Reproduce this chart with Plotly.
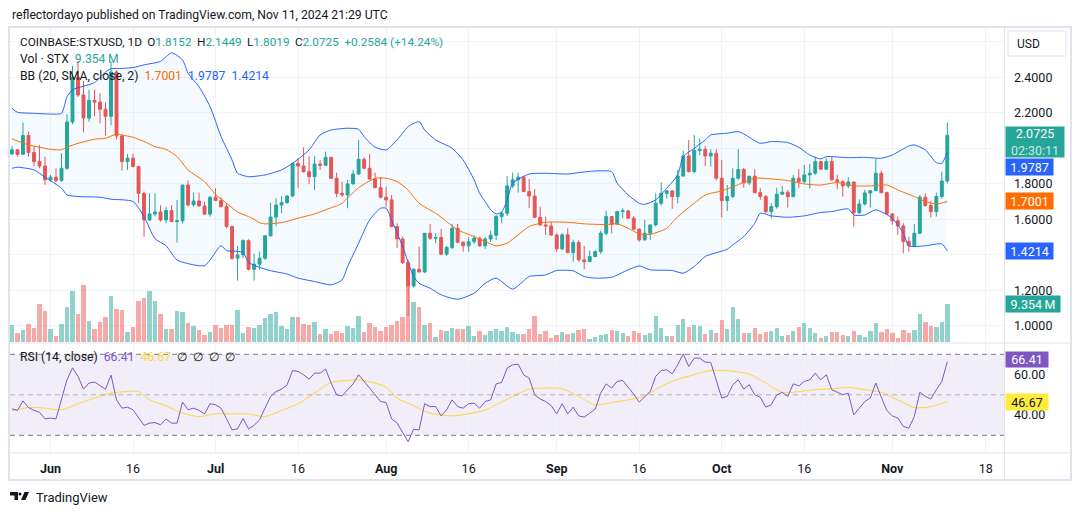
import plotly.graph_objects as go
import pandas as pd

FONT = "Roboto, 'Noto Sans', sans-serif"
W, H = 1080, 515
def px(x): return x / W
def py(y): return 1 - y / H

G, R = "#26a69a", "#ef5350"
BLUE, ORANGE, PURPLE, YELLOW = "#2962ff", "#ff6d00", "#7e57c2", "#fdd835"
TXT, GRID = "#131722", "#f0f3fa"

start = "2024-05-25"
n_days = 171
dates = pd.date_range(start, periods=n_days, freq="D")

opens = [1.968,1.991,1.966,2.072,1.976,1.925,1.900,1.822,1.837,1.818,
         1.887,2.148,2.40,2.30,2.17,2.27,2.26,2.22,2.18,2.43,
         2.07,1.925,1.944,1.897,1.746,1.596,1.630,1.641,1.596,1.649,
         1.587,1.591,1.793,1.681,1.703,1.675,1.629,1.724,1.705,1.671,
         1.559,1.380,1.399,1.479,1.318,1.347,1.380,1.507,1.612,1.68,
         1.694,1.731,1.915,1.900,1.868,1.840,1.911,1.904,1.949,1.831,
         1.746,1.737,1.799,1.855,1.938,1.887,1.827,1.778,1.724,1.709,
         1.559,1.489,1.356,1.224,1.318,1.303,1.521,1.493,1.497,1.403,
         1.441,1.549,1.471,1.450,1.474,1.493,1.450,1.489,1.510,1.615,
         1.634,1.788,1.822,1.837,1.756,1.731,1.611,1.568,1.562,1.511,
         1.433,1.512,1.412,1.469,1.371,1.361,1.390,1.418,1.521,1.615,
         1.572,1.643,1.647,1.606,1.544,1.484,1.521,1.568,1.690,1.746,
         1.760,1.728,1.844,1.957,1.869,1.987,1.994,1.957,1.972,1.831,
         1.705,1.728,1.831,1.880,1.805,1.842,1.750,1.728,1.643,1.671,
         1.741,1.752,1.728,1.831,1.812,1.850,1.859,1.925,1.882,1.925,
         1.822,1.812,1.788,1.810,1.637,1.686,1.748,1.761,1.859,1.750,
         1.630,1.591,1.562,1.474,1.452,1.521,1.724,1.677,1.643,1.728,
         1.8152]
highs = [2.013,1.995,2.145,2.094,2.013,2.017,1.953,1.850,1.887,1.972,
         2.192,2.465,2.49,2.38,2.33,2.33,2.31,2.26,2.49,2.44,
         2.07,1.968,1.968,1.897,1.756,1.746,1.746,1.679,1.671,1.679,
         1.709,1.793,1.818,1.750,1.750,1.700,1.731,1.775,1.724,1.690,
         1.563,1.45,1.487,1.487,1.405,1.418,1.507,1.694,1.718,1.731,
         1.737,1.919,1.944,2.006,1.953,1.955,1.934,1.981,1.951,1.863,
         1.812,1.822,1.878,2.047,1.949,1.968,1.863,1.837,1.784,1.737,
         1.577,1.502,1.371,1.324,1.446,1.521,1.574,1.521,1.546,1.450,
         1.574,1.574,1.474,1.499,1.510,1.502,1.499,1.536,1.624,1.643,
         1.844,1.863,1.863,1.840,1.827,1.769,1.671,1.615,1.587,1.521,
         1.521,1.549,1.484,1.484,1.450,1.424,1.424,1.536,1.649,1.615,
         1.649,1.662,1.652,1.619,1.549,1.596,1.568,1.746,1.808,1.765,
         1.760,1.878,1.987,2.047,2.075,2.056,2.013,1.994,1.994,1.934,
         1.793,1.887,1.994,1.889,1.846,1.882,1.775,1.737,1.690,1.778,
         1.788,1.765,1.850,1.882,1.906,1.911,1.953,1.925,1.944,1.953,
         1.850,1.820,1.837,1.810,1.712,1.765,1.765,1.940,1.874,1.756,
         1.634,1.615,1.577,1.502,1.572,1.737,1.746,1.705,1.750,1.868,
         2.1449]
lows = [1.962,1.953,1.962,1.953,1.900,1.887,1.793,1.812,1.810,1.812,
        1.880,2.135,2.29,2.09,2.15,2.18,2.14,2.07,2.13,2.05,
        1.874,1.878,1.893,1.690,1.502,1.590,1.615,1.587,1.577,1.585,
        1.469,1.577,1.671,1.671,1.671,1.624,1.615,1.705,1.666,1.549,
        1.371,1.254,1.380,1.311,1.254,1.315,1.371,1.502,1.560,1.634,
        1.686,1.725,1.775,1.863,1.797,1.765,1.878,1.900,1.827,1.725,
        1.727,1.662,1.795,1.850,1.882,1.822,1.775,1.718,1.671,1.555,
        1.437,1.348,1.055,1.215,1.300,1.296,1.484,1.465,1.398,1.394,
        1.431,1.465,1.417,1.417,1.460,1.446,1.432,1.471,1.484,1.577,
        1.619,1.775,1.750,1.752,1.662,1.606,1.564,1.511,1.508,1.418,
        1.427,1.409,1.361,1.361,1.318,1.359,1.386,1.405,1.508,1.521,
        1.572,1.606,1.602,1.540,1.474,1.480,1.484,1.559,1.677,1.718,
        1.658,1.690,1.838,1.863,1.859,1.962,1.900,1.897,1.818,1.611,
        1.647,1.720,1.823,1.778,1.793,1.746,1.709,1.634,1.605,1.660,
        1.737,1.666,1.724,1.774,1.803,1.774,1.850,1.878,1.878,1.818,
        1.769,1.728,1.774,1.559,1.630,1.677,1.666,1.758,1.746,1.626,
        1.568,1.511,1.408,1.418,1.446,1.517,1.671,1.609,1.615,1.716,
        1.8019]
closes = [1.991,1.966,2.072,1.976,1.925,1.900,1.822,1.837,1.818,1.887,
          2.148,2.40,2.30,2.17,2.27,2.26,2.22,2.18,2.43,2.07,
          1.925,1.944,1.897,1.746,1.596,1.630,1.641,1.596,1.649,1.587,
          1.591,1.793,1.681,1.703,1.675,1.629,1.724,1.705,1.671,1.559,
          1.380,1.399,1.479,1.318,1.347,1.380,1.507,1.612,1.68,1.694,
          1.731,1.915,1.900,1.868,1.840,1.911,1.904,1.949,1.831,1.746,
          1.737,1.799,1.855,1.938,1.887,1.827,1.778,1.724,1.709,1.559,
          1.489,1.356,1.224,1.318,1.303,1.521,1.493,1.497,1.403,1.441,
          1.549,1.471,1.450,1.474,1.493,1.450,1.489,1.510,1.615,1.634,
          1.788,1.822,1.837,1.756,1.731,1.611,1.568,1.562,1.511,1.433,
          1.512,1.412,1.469,1.371,1.361,1.390,1.418,1.521,1.615,1.572,
          1.643,1.647,1.606,1.544,1.484,1.521,1.568,1.690,1.746,1.760,
          1.728,1.844,1.957,1.869,1.987,1.994,1.957,1.972,1.831,1.705,
          1.728,1.831,1.880,1.805,1.842,1.750,1.728,1.643,1.671,1.741,
          1.752,1.728,1.831,1.812,1.850,1.859,1.925,1.882,1.925,1.822,
          1.812,1.788,1.810,1.637,1.686,1.748,1.761,1.859,1.750,1.630,
          1.591,1.562,1.474,1.452,1.521,1.724,1.677,1.643,1.728,1.8152,
          2.0725]
volumes_m = [4.1,2.1,2.9,4.3,3.5,9.3,7.6,3.2,1.4,4.4,
             8.5,12.6,7.0,14.0,5.1,3.1,4.9,6.1,11.3,8.1,
             7.9,2.4,3.6,10.1,10.8,12.6,10.1,7.0,3.2,3.2,
             7.6,7.4,4.6,3.9,2.9,1.7,2.4,4.1,3.5,4.1,
             4.1,7.9,2.1,3.6,3.4,4.1,6.0,7.0,7.3,3.9,
             3.2,6.1,6.1,4.4,4.1,4.9,1.9,3.2,1.9,2.6,
             2.2,3.9,3.5,6.5,2.3,4.6,3.7,2.7,3.7,4.1,
             5.1,6.2,19.9,9.8,8.6,4.1,4.6,1.2,2.9,2.6,
             3.5,3.1,3.2,3.9,1.4,2.6,1.7,2.6,3.2,2.6,
             3.7,2.4,1.9,1.9,3.2,6.4,1.9,2.6,1.0,1.7,
             2.5,1.9,2.2,2.9,3.2,0.7,1.2,1.7,1.9,2.9,
             2.6,2.1,1.4,2.6,2.1,1.7,2.2,6.4,3.5,1.4,
             1.4,4.1,5.6,3.7,4.1,3.9,1.9,2.9,2.2,5.4,
             3.2,8.6,5.6,2.1,2.1,3.5,1.9,2.4,2.6,3.5,
             1.4,1.7,2.6,3.7,4.6,3.5,2.1,1.0,1.4,2.4,
             2.4,1.7,1.4,2.6,1.7,1.2,2.6,4.6,2.4,3.2,
             2.1,1.0,2.9,2.1,2.9,7.0,4.9,3.9,3.6,4.9,
             9.354]
rsi = [43.1,42.3,47.0,43.7,42.3,41.4,38.1,38.5,38.1,47.2,
       57.5,63.3,59.1,52.8,55.8,56.3,54.6,52.8,59.7,47.5,
       43.4,43.9,42.6,38.5,34.9,36.0,36.3,35.2,38.0,36.0,
       36.0,46.4,42.6,43.4,42.3,40.6,45.6,45.1,43.4,38.1,
       32.7,33.2,38.3,33.2,34.9,37.7,43.4,49.2,51.6,52.8,
       54.9,62.0,61.5,59.9,57.7,60.7,60.7,62.7,55.8,50.0,
       49.5,52.5,55.4,59.9,56.6,53.0,50.0,46.7,46.2,38.1,
       36.0,31.1,26.8,33.0,32.7,45.6,44.2,44.2,39.6,42.6,
       47.5,44.2,43.4,45.6,45.9,43.4,46.7,47.5,55.4,56.1,
       63.2,64.8,65.1,59.9,58.2,50.0,47.9,46.7,44.7,40.6,
       45.6,40.6,43.9,39.6,39.0,40.9,42.9,50.8,55.4,53.3,
       56.6,57.1,53.8,50.3,46.4,48.8,51.6,59.1,62.0,62.3,
       60.4,64.8,70.2,64.0,68.1,68.1,66.1,66.0,56.6,48.4,
       49.2,54.9,57.4,52.8,54.9,50.0,48.8,43.9,45.1,50.0,
       51.2,49.2,55.4,54.4,56.6,57.4,60.7,57.4,59.9,52.5,
       51.3,50.0,50.8,40.1,43.4,46.7,48.4,55.8,48.8,42.3,
       39.6,38.5,34.4,33.5,39.3,51.3,49.2,47.9,52.5,56.6,
       66.41]
rsi_ma_day = [0,3,6,9,12,15,18,21,23,25,28,31,34,37,40,43,46,49,52,55,58,61,63,66,68,70,73,76,80,83,
              86,88,91,94,97,100,103,106,109,112,115,118,121,124,127,130,134,137,140,143,146,149,152,155,158,161,164,167,170]
rsi_ma = [42.1,43.7,43.4,42.6,45.6,48.4,50.8,51.6,51.6,47.5,44.6,40.9,39.3,40.6,40.6,40.5,39.3,42.3,45.6,50.8,56.1,57.1,57.4,55.8,53.8,48.4,44.6,40.9,39.6,40.6,
          42.5,45.1,49.2,52.8,53.3,53.0,49.2,45.1,46.2,47.5,49.5,54.1,57.7,59.9,62.0,61.9,60.2,55.8,51.2,51.6,52.5,53.0,53.6,52.5,51.2,47.5,43.7,44.2,46.67]
bb_up_day = [0,1,4,7,9,10,11,13,15,17,18,20,22,24,27,29,31,32,34,36,38,40,41,43,46,49,51,54,56,58,61,63,64,66,68,70,72,74,75,77,
             80,82,84,85,86,87,88,89,90,91,94,97,101,103,106,109,110,112,114,115,117,119,121,122,124,126,127,130,132,133,
             136,138,141,143,145,147,148,152,155,158,160,163,164,166,168,169,170]
bb_up = [2.225,2.203,2.197,2.193,2.197,2.29,2.33,2.35,2.37,2.43,2.448,2.45,2.455,2.47,2.49,2.538,2.498,2.423,2.347,2.235,2.066,1.934,1.86,1.84,1.85,1.878,1.915,1.991,2.075,2.103,2.113,2.107,2.066,2.006,1.991,2.047,2.122,2.15,2.103,2.047,
         2.0,1.934,1.822,1.746,1.70,1.653,1.63,1.64,1.709,1.803,1.855,1.859,1.855,1.863,1.872,1.868,1.803,1.737,1.69,1.684,1.709,1.775,1.85,1.953,2.0,2.047,2.075,2.085,2.094,2.081,
         2.028,2.038,2.032,2.006,1.962,1.94,1.953,1.947,1.949,1.944,1.962,2.013,2.019,1.991,1.919,1.915,1.9787]
bb_mid_day = [0,3,5,7,9,10,12,15,17,19,20,22,24,26,28,30,32,35,37,39,41,43,44,45,46,49,52,55,58,59,60,61,62,63,66,68,70,72,74,77,
              79,81,84,86,88,90,92,94,97,101,104,108,110,112,114,116,119,121,124,126,129,132,135,138,141,144,147,150,153,156,159,161,164,166,168,170]
bb_mid = [2.053,2.019,2.006,1.994,1.991,2.006,2.028,2.051,2.056,2.081,2.075,2.062,2.038,2.009,1.994,1.953,1.878,1.812,1.74,1.69,1.641,1.615,1.60,1.58,1.574,1.581,1.606,1.63,1.665,1.675,1.69,1.72,1.75,1.778,1.831,1.831,1.812,1.765,1.69,1.634,
          1.587,1.54,1.502,1.474,1.45,1.465,1.512,1.559,1.583,1.583,1.574,1.57,1.574,1.549,1.517,1.515,1.549,1.615,1.69,1.737,1.76,1.795,1.831,1.827,1.818,1.799,1.793,1.807,1.788,1.788,1.793,1.765,1.728,1.70,1.686,1.7001]
bb_lo_day = [0,1,4,6,9,10,12,16,18,22,24,26,28,30,33,35,36,38,39,41,42,43,45,47,50,52,55,58,60,61,63,65,67,68,69,71,73,74,76,78,
             81,84,86,88,91,94,97,99,102,104,106,109,112,114,116,120,122,124,126,130,131,133,135,136,138,141,144,147,149,152,153,155,157,160,162,163,166,169,170]
bb_lo = [1.887,1.893,1.878,1.837,1.775,1.737,1.728,1.724,1.713,1.70,1.615,1.49,1.451,1.37,1.343,1.338,1.37,1.451,1.423,1.419,1.413,1.357,1.329,1.31,1.291,1.268,1.249,1.23,1.258,1.333,1.465,1.596,1.662,1.662,1.596,1.446,1.277,1.239,1.211,1.174,
         1.149,1.183,1.239,1.268,1.206,1.277,1.286,1.311,1.309,1.277,1.268,1.273,1.315,1.337,1.315,1.311,1.296,1.333,1.39,1.431,1.455,1.502,1.577,1.634,1.619,1.611,1.619,1.638,1.643,1.658,1.624,1.624,1.653,1.606,1.521,1.45,1.45,1.461,1.4214]

tick_dates = ["2024-06-01","2024-06-16","2024-07-01","2024-07-16","2024-08-01","2024-08-16",
              "2024-09-01","2024-09-16","2024-10-01","2024-10-16","2024-11-01","2024-11-18"]
tick_labels = ["<b>Jun</b>","16","<b>Jul</b>","16","<b>Aug</b>","16","<b>Sep</b>","16","<b>Oct</b>","16","<b>Nov</b>","18"]
price_ticks = [1.0,1.2,1.4,1.6,1.8,2.0,2.2,2.4,2.6]
price_labels = ["1.0000","1.2000","","1.6000","1.8000","","2.2000","2.4000",""]

t0 = pd.Timestamp(start)
def to_dates(days):
    return [t0 + pd.Timedelta(days=d) for d in days]

fig = go.Figure()

fig.add_trace(go.Scatter(x=to_dates(bb_up_day), y=bb_up, mode="lines",
                         line=dict(color=BLUE, width=1, shape="spline", smoothing=0.6),
                         hoverinfo="skip", showlegend=False))
fig.add_trace(go.Scatter(x=to_dates(bb_lo_day), y=bb_lo, mode="lines",
                         line=dict(color=BLUE, width=1, shape="spline", smoothing=0.6),
                         fill="tonexty", fillcolor="rgba(33,150,243,0.05)",
                         hoverinfo="skip", showlegend=False))
vol_colors = ["rgba(38,166,154,0.5)" if c >= o else "rgba(239,83,80,0.5)" for o, c in zip(opens, closes)]
fig.add_trace(go.Bar(x=dates, y=volumes_m, marker=dict(color=vol_colors, line=dict(width=0)),
                     width=0.8 * 86400000, yaxis="y2", hoverinfo="skip", showlegend=False))
fig.add_trace(go.Scatter(x=to_dates(bb_mid_day), y=bb_mid, mode="lines",
                         line=dict(color=ORANGE, width=1, shape="spline", smoothing=0.6),
                         hoverinfo="skip", showlegend=False))
fig.add_trace(go.Candlestick(x=dates, open=opens, high=highs, low=lows, close=closes,
                             increasing=dict(line=dict(color=G, width=1), fillcolor=G),
                             decreasing=dict(line=dict(color=R, width=1), fillcolor=R),
                             whiskerwidth=0, showlegend=False, hoverinfo="skip"))
fig.add_trace(go.Scatter(x=to_dates(rsi_ma_day), y=rsi_ma, mode="lines",
                         line=dict(color=YELLOW, width=1, shape="spline", smoothing=0.8),
                         xaxis="x2", yaxis="y3", hoverinfo="skip", showlegend=False))
fig.add_trace(go.Scatter(x=dates, y=rsi, mode="lines", line=dict(color=PURPLE, width=1),
                         xaxis="x2", yaxis="y3", hoverinfo="skip", showlegend=False))

x_range = [t0 - pd.Timedelta(days=0.36), t0 + pd.Timedelta(days=180.3)]

fig.update_layout(
    width=W, height=H, margin=dict(l=0, r=0, t=0, b=0),
    paper_bgcolor="white", plot_bgcolor="white",
    font=dict(family=FONT, color=TXT, size=12),
    showlegend=False, dragmode=False, bargap=0, boxgap=0.25,
    xaxis=dict(domain=[px(10), px(1004)], range=x_range, type="date", anchor="y",
               tickvals=tick_dates, showticklabels=False, showgrid=True, gridcolor=GRID,
               zeroline=False, showline=False, rangeslider=dict(visible=False), fixedrange=True),
    yaxis=dict(domain=[py(343), py(27)], range=[0.9025, 2.6835], side="right", anchor="x",
               tickvals=price_ticks, ticktext=price_labels, showgrid=True, gridcolor=GRID,
               zeroline=False, showline=False, ticks="", ticklabelstandoff=9,
               tickfont=dict(size=12.5, color=TXT), fixedrange=True),
    yaxis2=dict(overlaying="y", range=[-0.32, 78.08], visible=False, fixedrange=True),
    xaxis2=dict(domain=[px(10), px(1004)], range=x_range, type="date", anchor="y3", matches="x",
                tickvals=tick_dates, ticktext=tick_labels, showgrid=True, gridcolor=GRID,
                zeroline=False, showline=False, ticks="", ticklabelstandoff=6,
                tickfont=dict(size=12.5, color=TXT), fixedrange=True),
    yaxis3=dict(domain=[py(453), py(344)], range=[21.26, 75.09], side="right", anchor="x2",
                tickvals=[40, 60], ticktext=["40.00", "60.00"], showgrid=True, gridcolor=GRID,
                zeroline=False, showline=False, ticks="", ticklabelstandoff=9,
                tickfont=dict(size=12.5, color=TXT), fixedrange=True),
)

shapes = []
shapes.append(dict(type="rect", xref="x2 domain", yref="y3", x0=0, x1=1, y0=30, y1=70,
                   fillcolor="rgba(126,87,194,0.1)", line=dict(width=0), layer="below"))
for lvl, col in [(70, "#787b86"), (50, "rgba(120,123,134,0.5)"), (30, "#787b86")]:
    shapes.append(dict(type="line", xref="x2 domain", yref="y3", x0=0, x1=1, y0=lvl, y1=lvl,
                       line=dict(color=col, width=1, dash="5px,4px")))
FR = "#e0e3eb"
shapes.append(dict(type="rect", xref="paper", yref="paper", x0=px(9), x1=px(1071), y0=py(480), y1=py(27),
                   line=dict(color=FR, width=2), fillcolor="rgba(0,0,0,0)"))
shapes.append(dict(type="line", xref="paper", yref="paper", x0=px(1004.5), x1=px(1004.5), y0=py(480), y1=py(27),
                   line=dict(color=FR, width=1)))
shapes.append(dict(type="line", xref="paper", yref="paper", x0=px(9), x1=px(1071), y0=py(343), y1=py(343),
                   line=dict(color=FR, width=1)))
shapes.append(dict(type="line", xref="paper", yref="paper", x0=px(9), x1=px(1071), y0=py(453), y1=py(453),
                   line=dict(color=FR, width=1)))
shapes.append(dict(type="rect", xref="paper", yref="paper", x0=px(1008), x1=px(1066), y0=py(56), y1=py(31),
                   line=dict(color=FR, width=1), fillcolor="white"))
shapes.append(dict(type="path", xref="paper", yref="paper",
                   path=f"M {px(10)},{py(492)} L {px(18)},{py(492)} L {px(18)},{py(500)} L {px(14.5)},{py(500)} L {px(14.5)},{py(495.5)} L {px(10)},{py(495.5)} Z",
                   fillcolor=TXT, line=dict(width=0)))
shapes.append(dict(type="circle", xref="paper", yref="paper", x0=px(18.5), x1=px(21.5), y0=py(495.5), y1=py(492.5),
                   fillcolor=TXT, line=dict(width=0)))
shapes.append(dict(type="path", xref="paper", yref="paper",
                   path=f"M {px(24.5)},{py(492)} L {px(29)},{py(492)} L {px(25.5)},{py(500)} L {px(21)},{py(500)} Z",
                   fillcolor=TXT, line=dict(width=0)))
fig.update_layout(shapes=shapes)

def span(t, c):
    return f'<span style="color:{c}">{t}</span>'

anns = []
def text(x, y, t, size=12, color=TXT, xanchor="left"):
    anns.append(dict(x=px(x), y=py(y), xref="paper", yref="paper", xanchor=xanchor, yanchor="middle",
                     text=t, showarrow=False, font=dict(size=size, color=color, family=FONT)))

sp = "\u00a0"
gap = "\u00a0\u2009"
thin = "\u2009"
text(10, 15, "reflectordayo published on TradingView.com, Nov 11, 2024 21:29 UTC", size=12.2)
text(18, 42, f"COINBASE:STXUSD, 1D{gap}O{span('1.8152', G)}{gap}H{span('2.1449', G)}{gap}L{span('1.8019', G)}"
             f"{gap}C{span('2.0725', G)}{gap}{span('+0.2584 (+14.24%)', G)}", size=11.8)
text(18, 59, f"Vol · STX{sp}{sp}{span('9.354' + thin + 'M', G)}", size=12.2)
text(18, 76, f"BB (20, SMA, close, 2){sp}{sp}{span('1.7001', ORANGE)}{sp}{sp}{span('1.9787', BLUE)}{sp}{sp}{span('1.4214', BLUE)}", size=12.2)
text(18, 357, f"RSI (14, close){sp}{sp}{span('66.41', PURPLE)}{sp}{sp}{span('46.67', YELLOW)}{sp}{sp}∅{sp}{sp}∅{sp}{sp}∅{sp}{sp}∅", size=12.2)
text(1028, 44, "USD", size=12, xanchor="center")
text(34, 497, "TradingView", size=13)

def tag(t, y, yref, bg, fc, yshift=0, width=45, height=14):
    anns.append(dict(x=px(1005), xref="paper", xanchor="left", y=y, yref=yref, yanchor="middle",
                     yshift=yshift, text=t, showarrow=False, bgcolor=bg, width=width, height=height,
                     borderpad=1, align="center", font=dict(size=12.5, color=fc, family=FONT)))

tag(f"{closes[-1]:.4f}<br>{span('02:30:11', 'rgba(255,255,255,0.75)')}", closes[-1], "y", G, "white",
    yshift=-7, width=56, height=28)
tag(f"{bb_up[-1]:.4f}", bb_up[-1], "y", BLUE, "white", yshift=-15)
tag(f"{bb_mid[-1]:.4f}", bb_mid[-1], "y", ORANGE, "white")
tag(f"{bb_lo[-1]:.4f}", bb_lo[-1], "y", BLUE, "white")
tag(f"{volumes_m[-1]:.3f}{thin}M", volumes_m[-1], "y2", G, "white", width=52)
tag(f"{rsi[-1]:.2f}", rsi[-1], "y3", PURPLE, "white", width=40, height=13, yshift=2)
tag(f"{rsi_ma[-1]:.2f}", rsi_ma[-1], "y3", "#ffeb3b", TXT, width=40)

fig.update_layout(annotations=anns)
fig.write_html("out.html", config={"displayModeBar": False, "staticPlot": True})
